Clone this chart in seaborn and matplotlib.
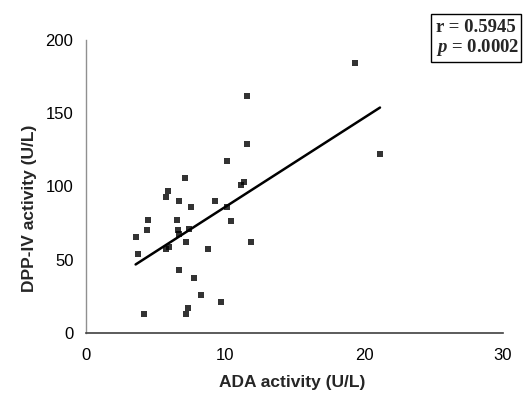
import matplotlib
matplotlib.use("Agg")
import matplotlib.pyplot as plt
import seaborn as sns
import pandas as pd
from matplotlib.patches import Rectangle

ada = [3.57, 3.77, 4.15, 4.39, 4.46, 5.76, 6.00, 5.78, 5.92, 6.55, 6.59, 6.69,
       6.71, 6.71, 7.12, 7.22, 7.22, 7.36, 7.43, 7.55, 7.75, 8.27, 8.78, 9.28,
       9.71, 10.12, 10.12, 10.43, 11.13, 11.35, 11.56, 11.56, 11.87, 19.35, 21.15]
dpp = [65.3, 53.7, 13.0, 70.1, 77.1, 57.5, 58.5, 92.6, 97.1, 77.1, 70.3, 67.4,
       90.1, 42.8, 106.0, 62.3, 13.0, 17.3, 71.2, 86.2, 37.8, 25.7, 57.3, 90.1,
       20.9, 117.6, 86.2, 76.5, 100.8, 103.1, 162.0, 128.8, 62.1, 184.0, 122.0]
x_ticks = [0, 10, 20, 30]
y_ticks = [0, 50, 100, 150, 200]
stat_lines = ["r = 0.5945", "$p$ = 0.0002"]

df = pd.DataFrame({"ADA": ada, "DPP": dpp})

sns.set_style("white")
plt.rcParams["font.family"] = ["Liberation Sans", "DejaVu Sans"]
plt.rcParams["mathtext.fontset"] = "custom"
plt.rcParams["mathtext.it"] = "Liberation Serif:italic:bold"
plt.rcParams["mathtext.rm"] = "Liberation Serif:bold"

fig = plt.figure(figsize=(5.23, 3.96), dpi=100)
ax = fig.add_axes([86/523, 1-333/396, 417/523, 293/396])

sns.regplot(data=df, x="ADA", y="DPP", ax=ax, ci=None, color="black",
            marker="s", scatter_kws={"s": 14, "linewidths": 0},
            line_kws={"lw": 1.8})

ax.set_xlim(0, 30)
ax.set_ylim(0, 200)
ax.set_xticks(x_ticks)
ax.set_yticks(y_ticks)
ax.tick_params(axis="both", direction="out", length=5, width=1,
               color="#808080", labelsize=12, labelcolor="black", pad=4)
ax.tick_params(axis="x", pad=6)
for s in ["top", "right"]:
    ax.spines[s].set_visible(False)
ax.spines["left"].set_color("#909090")
ax.spines["bottom"].set_color("#404040")
ax.spines["left"].set_linewidth(1)
ax.spines["bottom"].set_linewidth(1.2)

ax.set_xlabel("ADA activity (U/L)", fontsize=12.5, fontweight="bold")
ax.set_ylabel("DPP-IV activity (U/L)", fontsize=12.5, fontweight="bold")
ax.xaxis.set_label_coords(0.494, -0.145)
ax.yaxis.set_label_coords(-0.118, 0.427)

# stats box
fig.patches.append(Rectangle((431/523, 1-62/396), 90/523, 48/396,
                             transform=fig.transFigure, fill=False,
                             edgecolor="black", linewidth=1))
fig.text(436/523, 1-28/396, stat_lines[0], fontsize=13.5, fontweight="bold",
         family="Liberation Serif", va="center", ha="left")
fig.text(436/523, 1-48/396, stat_lines[1], fontsize=13.5, fontweight="bold",
         family="Liberation Serif", va="center", ha="left")

fig.savefig("out.png", dpi=100)
